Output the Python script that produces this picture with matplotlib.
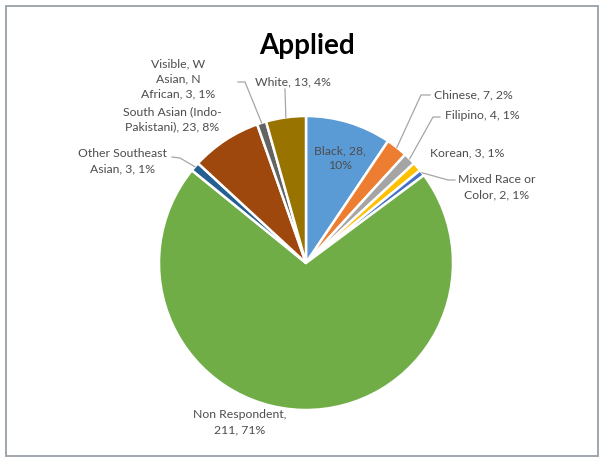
import matplotlib.pyplot as plt
import numpy as np
from matplotlib.patches import Rectangle

plt.rcParams['font.family'] = ['Lato', 'DejaVu Sans']

# pie data, clockwise from 12 o'clock
categories = ["Black", "Chinese", "Filipino", "Korean", "Mixed Race or Color",
              "Non Respondent", "Other Southeast Asian",
              "South Asian (Indo-Pakistani)", "Visible, W Asian, N African", "White"]
counts = [28, 7, 4, 3, 2, 211, 3, 23, 3, 13]
percents = ["10%", "2%", "1%", "1%", "1%", "71%", "1%", "8%", "1%", "4%"]
colors = ["#5B9BD5", "#ED7D31", "#A5A5A5", "#FFC000", "#4472C4",
          "#70AD47", "#255E91", "#9E480E", "#636363", "#997300"]

# how the data labels are wrapped
label_lines = [
    "Black, 28,\n10%",
    "Chinese, 7, 2%",
    "Filipino, 4, 1%",
    "Korean, 3, 1%",
    "Mixed Race or\nColor, 2, 1%",
    "Non Respondent,\n211, 71%",
    "Other Southeast\nAsian, 3, 1%",
    "South Asian (Indo-\nPakistani), 23, 8%",
    "Visible, W\nAsian, N\nAfrican, 3, 1%",
    "White, 13, 4%",
]

W, H = 600, 458
fig = plt.figure(figsize=(6, 4.58), dpi=100)

def fx(px):
    return px / W

def fy(py):
    return 1 - py / H

# chart border
fig.patches.append(Rectangle((fx(6), fy(456)), fx(592), (456 - 6) / H,
                             transform=fig.transFigure, fill=False,
                             edgecolor="#a0a6ae", linewidth=1.4))

cx, cy, r = 306, 263, 147
ax = fig.add_axes([fx(cx - r), fy(cy + r), 2 * r / W, 2 * r / H])
wedges, _ = ax.pie(counts, colors=colors, startangle=90, counterclock=False,
                   wedgeprops=dict(edgecolor="white", linewidth=1.8))
ax.set_xlim(-1, 1)
ax.set_ylim(-1, 1)
ax.set_aspect("equal")
ax.axis("off")

fig.text(fx(307), fy(46), "Applied", ha="center", va="center",
         fontsize=20, fontweight="bold", color="black")

# label centres in pixels (x, y from top)
label_pos = {
    0: (340, 158),
    1: (473, 95),
    2: (482, 116),
    3: (467, 153),
    4: (497, 187),
    5: (240, 422),
    6: (122, 161),
    7: (172, 119),
    8: (178, 79),
    9: (293, 82),
}
for i, (px, py) in label_pos.items():
    fig.text(fx(px), fy(py), label_lines[i], ha="center", va="center",
             fontsize=8.8, color="#4d4d4d", linespacing=1.45)

# leader lines: label anchor -> elbow -> slice edge
leaders = {
    1: [(430, 95), (421, 95)],
    2: [(440, 117), (433, 117)],
    4: [(455, 180), (448, 180)],
    6: [(172, 157), (180, 158)],
    8: [(238, 82), (245, 82)],
    9: [(285, 89), (285, 89)],
}
for i, pts in leaders.items():
    w = wedges[i]
    mid = np.deg2rad((w.theta1 + w.theta2) / 2)
    ex, ey = ax.transData.transform((np.cos(mid), np.sin(mid)))
    ex, ey = fig.transFigure.inverted().transform((ex, ey))
    xs = [fx(p[0]) for p in pts] + [ex]
    ys = [fy(p[1]) for p in pts] + [ey]
    fig.add_artist(plt.Line2D(xs, ys, transform=fig.transFigure,
                              color="#a6a6a6", linewidth=0.9))

fig.savefig("out.png", dpi=100)
